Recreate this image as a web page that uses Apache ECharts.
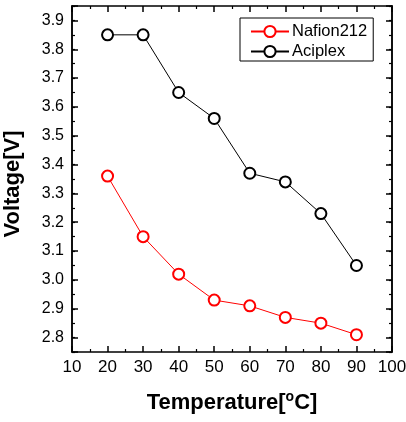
<!DOCTYPE html>
<html>
<head>
<meta charset="utf-8">
<script src="https://cdn.jsdelivr.net/npm/echarts@6/dist/echarts.min.js"></script>
<style>
html,body{margin:0;padding:0;background:#fff;}
#chart{width:406px;height:422px;}
</style>
</head>
<body>
<div id="chart"></div>
<script>
var temps = [20, 30, 40, 50, 60, 70, 80, 90];
var nafion = [3.36, 3.15, 3.02, 2.93, 2.91, 2.87, 2.85, 2.81];
var aciplex = [3.85, 3.85, 3.65, 3.56, 3.37, 3.34, 3.23, 3.05];

function pairs(xs, ys) {
  var out = [];
  for (var i = 0; i < xs.length; i++) out.push([xs[i], ys[i]]);
  return out;
}

var font = 'Arial, "Liberation Sans", sans-serif';
var axisLine = { show: true, onZero: false, lineStyle: { color: '#000', width: 1.5 } };

var chart = echarts.init(document.getElementById('chart'));

var option = {
  animation: false,
  textStyle: { fontFamily: font },
  grid: { left: 72, right: 14, top: 6, bottom: 70, containLabel: false, outerBoundsMode: 'none' },
  legend: {
    orient: 'vertical',
    left: 240,
    top: 18,
    padding: [5, 6, 1, 10],
    itemGap: 3,
    itemWidth: 38,
    itemHeight: 14,
    borderColor: '#000',
    borderWidth: 1,
    textStyle: { fontSize: 16.5, color: '#000', fontFamily: font, padding: [0, 0, 0, -2] },
    data: ['Nafion212', 'Aciplex']
  },
  xAxis: [
    {
      type: 'value', position: 'bottom', min: 10, max: 100, interval: 10,
      axisLine: axisLine,
      axisTick: { inside: true, length: 6, lineStyle: { color: '#000', width: 1.5 } },
      minorTick: { show: true, splitNumber: 2, length: 3, lineStyle: { color: '#000', width: 1.2 } },
      splitLine: { show: false },
      axisLabel: { fontSize: 17, color: '#000', margin: 7, fontFamily: font },
      name: 'Temperature[{sup|o}C]',
      nameLocation: 'middle',
      nameGap: 38,
      nameTextStyle: {
        fontSize: 22, fontWeight: 'bold', color: '#000', fontFamily: font,
        rich: { sup: { fontSize: 14, fontWeight: 'bold', verticalAlign: 'top', padding: [0, 0, 12, 0] } }
      }
    },
    {
      type: 'value', position: 'top', offset: 0, min: 10, max: 100, interval: 10,
      axisLine: axisLine,
      axisTick: { inside: true, length: 6, lineStyle: { color: '#000', width: 1.5 } },
      minorTick: { show: true, splitNumber: 2, length: 3, lineStyle: { color: '#000', width: 1.2 } },
      splitLine: { show: false },
      axisLabel: { show: false }
    }
  ],
  yAxis: [
    {
      type: 'value', position: 'left', offset: 0, min: 2.75, max: 3.95, interval: 0.05,
      axisLine: axisLine,
      axisTick: { inside: true, length: 3, lineStyle: { color: '#000', width: 1.2 } },
      splitLine: { show: false },
      axisLabel: { show: false }
    },
    {
      type: 'value', position: 'left', offset: 0, min: 2.75, max: 3.95, splitNumber: 12,
      axisLine: axisLine,
      axisTick: { inside: true, length: 6, lineStyle: { color: '#000', width: 1.5 } },
      splitLine: { show: false },
      axisLabel: {
        fontSize: 16, color: '#000', margin: 8, fontFamily: font,
        formatter: function (v) {
          var r = Math.round(v * 100);
          if (r % 10 !== 0) return '';
          return v.toFixed(1);
        }
      },
      name: 'Voltage[V]',
      nameLocation: 'middle',
      nameGap: 48,
      nameTextStyle: { fontSize: 22, fontWeight: 'bold', color: '#000', fontFamily: font, padding: [0, 10, 0, 0] }
    },
    {
      type: 'value', position: 'right', offset: 0, min: 2.75, max: 3.95, interval: 0.05,
      axisLine: axisLine,
      axisTick: { inside: true, length: 3, lineStyle: { color: '#000', width: 1.2 } },
      splitLine: { show: false },
      axisLabel: { show: false }
    },
    {
      type: 'value', position: 'right', offset: 0, min: 2.75, max: 3.95, splitNumber: 12,
      axisLine: axisLine,
      axisTick: { inside: true, length: 6, lineStyle: { color: '#000', width: 1.5 } },
      splitLine: { show: false },
      axisLabel: { show: false }
    }
  ],
  series: [
    {
      name: 'Nafion212',
      type: 'line',
      xAxisIndex: 0, yAxisIndex: 0,
      data: pairs(temps, nafion),
      symbol: 'emptyCircle',
      symbolSize: 11,
      color: '#ff0000',
      lineStyle: { color: '#ff0000', width: 1 },
      itemStyle: { color: '#ff0000', borderWidth: 1 }
    },
    {
      name: 'Aciplex',
      type: 'line',
      xAxisIndex: 0, yAxisIndex: 0,
      data: pairs(temps, aciplex),
      symbol: 'emptyCircle',
      symbolSize: 11,
      color: '#000',
      lineStyle: { color: '#000', width: 1 },
      itemStyle: { color: '#000', borderWidth: 1 }
    }
  ]
};

chart.setOption(option);
</script>
</body>
</html>
